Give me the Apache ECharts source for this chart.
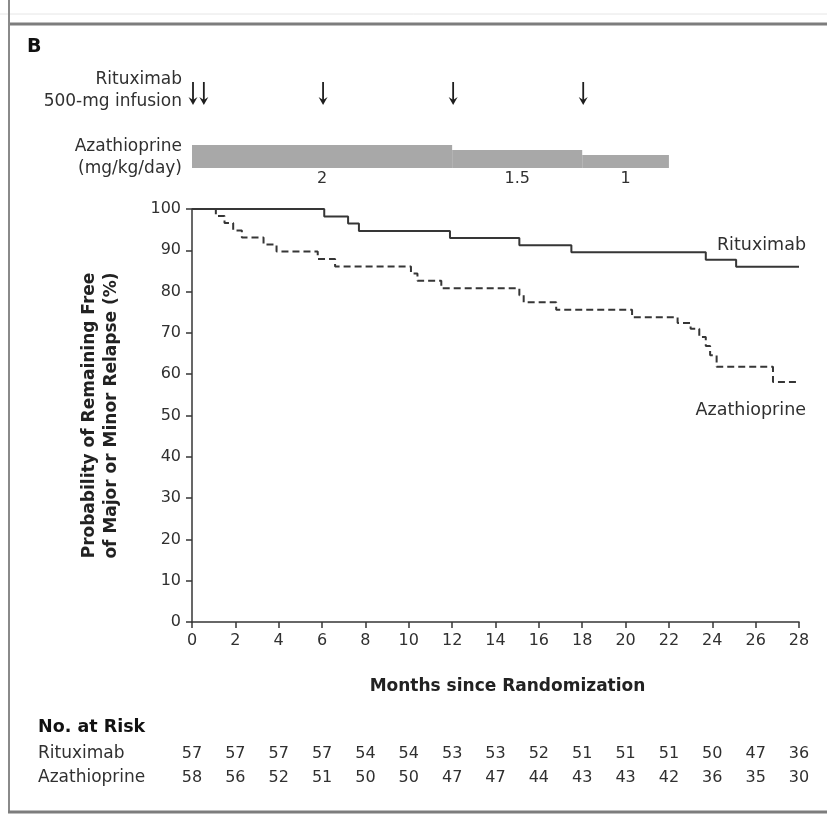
<!DOCTYPE html>
<html><head><meta charset="utf-8">
<script src="https://cdn.jsdelivr.net/npm/echarts@6/dist/echarts.min.js"></script>
<style>html,body{margin:0;padding:0;background:#fff}#c{width:827px;height:817px}</style>
</head><body><div id="c"></div>
<script>
// ---- data ----
const xTicks = [0,2,4,6,8,10,12,14,16,18,20,22,24,26,28];
const ritMonths = [0, 6.1, 7.2, 7.7, 11.9, 15.1, 17.5, 23.7, 25.1, 28];
const ritPct    = [100, 98.2, 96.5, 94.7, 93.0, 91.2, 89.5, 87.7, 86.0, 86.0];
const azaMonths = [0, 1.1, 1.5, 1.9, 2.3, 3.3, 3.9, 5.8, 6.6, 10.1, 10.4, 11.5, 15.1, 15.3, 16.8, 20.3, 22.4, 23.0, 23.4, 23.7, 23.9, 24.2, 26.8, 28];
const azaPct    = [100, 98.3, 96.6, 94.8, 93.1, 91.4, 89.7, 87.9, 86.1, 84.4, 82.6, 80.8, 79.1, 77.4, 75.6, 73.8, 72.4, 71.0, 69.0, 66.8, 64.6, 61.8, 58.1, 58.1];
const infusionMonths = [0, 0.5, 6, 12, 18];
const doseStart = [0, 12, 18];
const doseEnd   = [12, 18, 22];
const doseMg    = [2, 1.5, 1];
const doseLabels = ['2', '1.5', '1'];
const riskGroups = ['Rituximab', 'Azathioprine'];
const riskRituximab    = [57,57,57,57,54,54,53,53,52,51,51,51,50,47,36];
const riskAzathioprine = [58,56,52,51,50,50,47,47,44,43,43,42,36,35,30];

// ---- chart ----
const FONT = '"DejaVu Sans", "Liberation Sans", sans-serif';
const TXT = '#303030';
const LINE = '#363636';
const chart = echarts.init(document.getElementById('c'), null, {renderer:'canvas'});

const ritData = ritMonths.map((m,i)=>[m, ritPct[i]]);
const azaData = azaMonths.map((m,i)=>[m, azaPct[i]]);
const doseData = doseStart.map((s,i)=>[s, doseEnd[i], doseMg[i]]);
const riskData = [];
xTicks.forEach((m,i)=>{
  riskData.push([m, 1.5, riskRituximab[i]]);
  riskData.push([m, 0.5, riskAzathioprine[i]]);
});

const option = {
  animation:false,
  backgroundColor:'#fff',
  grid:[
    {left:192, top:209, width:607, height:413},
    {left:192, top:60, width:607, height:108},
    {left:192, top:742, width:607, height:48}
  ],
  xAxis:[
    {gridIndex:0, type:'value', min:0, max:28, interval:2,
     axisLine:{lineStyle:{color:LINE, width:1.5}},
     axisTick:{show:true, inside:false, length:6, lineStyle:{color:LINE, width:1.5}},
     axisLabel:{color:TXT, fontFamily:FONT, fontSize:16, margin:11},
     splitLine:{show:false},
     name:'Months since Randomization', nameLocation:'middle', nameGap:56,
     nameTextStyle:{color:'#222', fontFamily:FONT, fontSize:17, fontWeight:'bold', padding:[0,0,0,24]}},
    {gridIndex:1, type:'value', min:0, max:28, show:false},
    {gridIndex:2, type:'value', min:0, max:28, show:false}
  ],
  yAxis:[
    {gridIndex:0, type:'value', min:0, max:100, interval:10,
     axisLine:{show:true, lineStyle:{color:LINE, width:1.5}},
     axisTick:{show:true, inside:false, length:6, lineStyle:{color:LINE, width:1.5}},
     axisLabel:{color:TXT, fontFamily:FONT, fontSize:16, margin:11},
     splitLine:{show:false},
     name:'Probability of Remaining Free\nof Major or Minor Relapse (%)', nameLocation:'middle', nameRotate:90, nameGap:69,
     nameTextStyle:{color:'#222', fontFamily:FONT, fontSize:17, fontWeight:'bold', lineHeight:22}},
    {gridIndex:1, type:'value', min:-0.3, max:10.5, show:false},
    {gridIndex:2, type:'value', min:0, max:2, show:false}
  ],
  series:[
    {type:'line', name:'Rituximab', xAxisIndex:0, yAxisIndex:0, step:'end', data:ritData,
     symbol:'none', lineStyle:{color:LINE, width:2}},
    {type:'line', name:'Azathioprine', xAxisIndex:0, yAxisIndex:0, step:'end', data:azaData,
     symbol:'none', lineStyle:{color:LINE, width:2, type:[7,4]}},
    {type:'custom', xAxisIndex:1, yAxisIndex:1, data:doseData,
     renderItem:function(params, api){
       const p0 = api.coord([api.value(0), api.value(2)]);
       const p1 = api.coord([api.value(1), -0.3]);
       const mid = api.coord([(api.value(0)+api.value(1))/2, -0.3]);
       return {type:'group', children:[
         {type:'rect', shape:{x:p0[0], y:p0[1], width:p1[0]-p0[0], height:p1[1]-p0[1]},
          style:{fill:'#a8a8a8'}},
         {type:'text', x:mid[0], y:p1[1]+3,
          style:{text:doseLabels[params.dataIndex], fill:TXT, font:'16px '+FONT, align:'center', verticalAlign:'top'}}
       ]};
     }},
    {type:'custom', xAxisIndex:1, yAxisIndex:1, data:infusionMonths.map(m=>[m]),
     renderItem:function(params, api){
       const top = api.coord([api.value(0), 8.3]);
       const bot = api.coord([api.value(0), 6.0]);
       const x = top[0] + 1;
       return {type:'group', children:[
         {type:'line', shape:{x1:x, y1:top[1], x2:x, y2:bot[1]-3}, style:{stroke:'#1e1e1e', lineWidth:1.8}},
         {type:'polygon', shape:{points:[[x-4.5, bot[1]-8],[x, bot[1]-5],[x+4.5, bot[1]-8],[x, bot[1]]]}, style:{fill:'#1e1e1e'}}
       ]};
     }},
    {type:'custom', xAxisIndex:2, yAxisIndex:2, data:riskData,
     renderItem:function(params, api){
       const p = api.coord([api.value(0), api.value(1)]);
       return {type:'text', x:p[0], y:p[1],
         style:{text:String(api.value(2)), fill:TXT, font:'16px '+FONT, align:'center', verticalAlign:'middle'}};
     }}
  ],
  graphic:[
    {type:'line', shape:{x1:8, y1:24, x2:827, y2:24}, style:{stroke:'#7d7d7d', lineWidth:3}},
    {type:'line', shape:{x1:0, y1:14, x2:827, y2:14}, style:{stroke:'#e6e6e6', lineWidth:1}},
    {type:'line', shape:{x1:9, y1:0, x2:9, y2:813}, style:{stroke:'#8a8a8a', lineWidth:2}},
    {type:'line', shape:{x1:8, y1:812, x2:827, y2:812}, style:{stroke:'#7d7d7d', lineWidth:3}},
    {type:'text', left:27, top:38, style:{text:'B', fill:'#111', font:'bold 19px '+FONT}},
    {type:'text', x:182, y:80, style:{text:'Rituximab', fill:TXT, font:'17px '+FONT, align:'right', verticalAlign:'middle'}},
    {type:'text', x:182, y:102, style:{text:'500-mg infusion', fill:TXT, font:'17px '+FONT, align:'right', verticalAlign:'middle'}},
    {type:'text', x:182, y:147, style:{text:'Azathioprine', fill:TXT, font:'17px '+FONT, align:'right', verticalAlign:'middle'}},
    {type:'text', x:182, y:169, style:{text:'(mg/kg/day)', fill:TXT, font:'17px '+FONT, align:'right', verticalAlign:'middle'}},
    {type:'text', x:806, y:245, style:{text:'Rituximab', fill:TXT, font:'17.5px '+FONT, align:'right', verticalAlign:'middle'}},
    {type:'text', x:806, y:410, style:{text:'Azathioprine', fill:TXT, font:'17.5px '+FONT, align:'right', verticalAlign:'middle'}},
    {type:'text', x:38, y:727, style:{text:'No. at Risk', fill:'#111', font:'bold 17.5px '+FONT, align:'left', verticalAlign:'middle'}},
    {type:'text', x:38, y:754, style:{text:riskGroups[0], fill:TXT, font:'17px '+FONT, align:'left', verticalAlign:'middle'}},
    {type:'text', x:38, y:778, style:{text:riskGroups[1], fill:TXT, font:'17px '+FONT, align:'left', verticalAlign:'middle'}}
  ]
};
chart.setOption(option);
</script>
</body></html>
